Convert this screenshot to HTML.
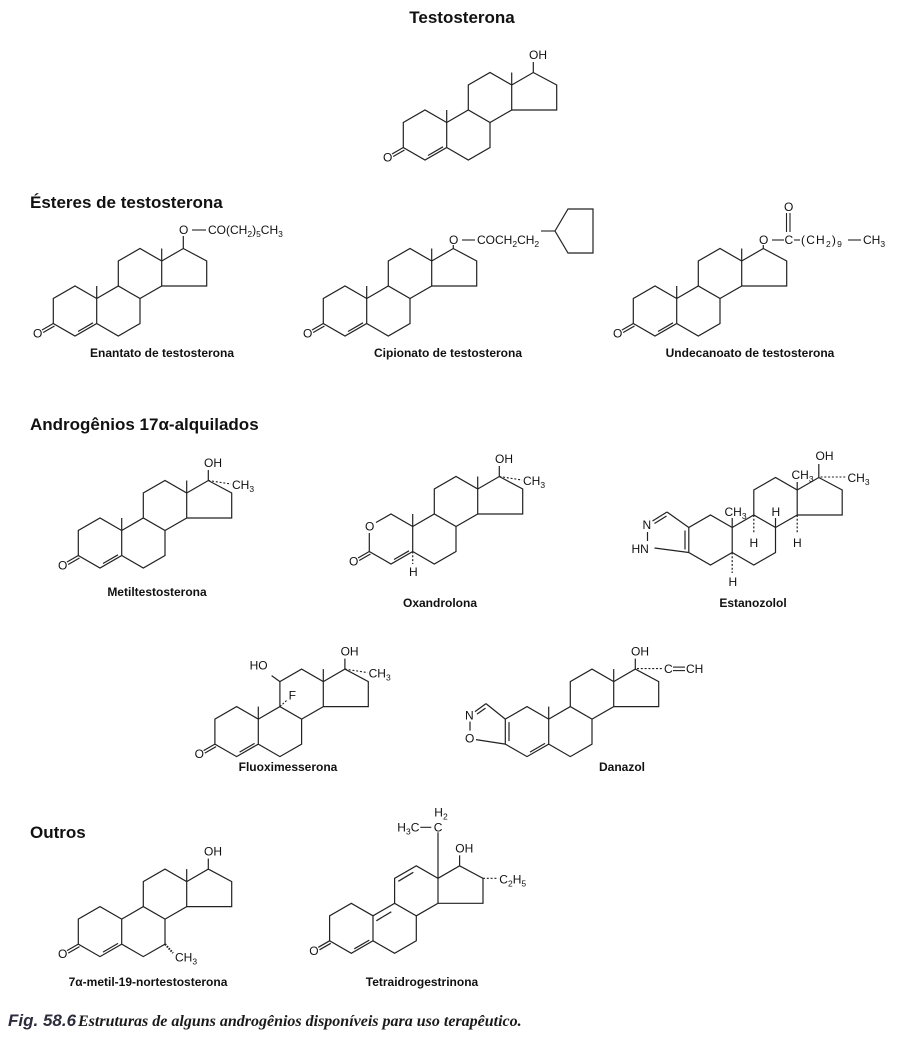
<!DOCTYPE html>
<html><head><meta charset="utf-8">
<style>
html,body{margin:0;padding:0;background:#fff;}
svg{display:block;}
text{font-family:"Liberation Sans",Arial,sans-serif;fill:#111;}
.h{font-weight:bold;font-size:17px;}
.lb{font-weight:bold;font-size:12px;text-anchor:middle;}
.t{font-size:12px;}
.s{font-size:8.5px;}
</style></head>
<body>
<svg width="900" height="1038" viewBox="0 0 900 1038" xmlns="http://www.w3.org/2000/svg">
<defs>
 <g id="ringA" fill="none" stroke="#222" stroke-width="1.2">
  <polyline points="21.7,-12.5 0,-25 -21.7,-12.5 -21.7,12.5 0,25 21.7,12.5 21.7,-12.5"/>
 </g>
 <g id="bcd" fill="none" stroke="#222" stroke-width="1.2">
  <polyline points="21.7,-12.5 43.3,-25 65,-12.5 65,12.5 43.3,25 21.7,12.5"/>
  <polyline points="43.3,-25 43.3,-50 65,-62.5 86.7,-50 86.7,-25 65,-12.5"/>
  <polyline points="86.7,-50 108.3,-62.5 131.7,-50 131.7,-25 86.7,-25"/>
 </g>
 <g id="enone" fill="none" stroke="#222" stroke-width="1.2">
  <line x1="-21.7" y1="12.5" x2="-33" y2="19"/>
  <line x1="-20.5" y1="15" x2="-31.8" y2="21.5"/>
 </g>
 <g id="db45" stroke="#222" stroke-width="1.2"><line x1="3" y1="20.5" x2="18" y2="11.8"/></g>
 <g id="me10" stroke="#222" stroke-width="1.2"><line x1="21.7" y1="-12.5" x2="21.7" y2="-25"/></g>
 <g id="me13" stroke="#222" stroke-width="1.2"><line x1="86.7" y1="-50" x2="86.7" y2="-62.5"/></g>
 <g id="oh17"><line x1="108.3" y1="-62.5" x2="108.3" y2="-73" stroke="#222" stroke-width="1.2"/><text class="t" x="104" y="-76">OH</text></g>
 <g id="ch3a"><line x1="108.3" y1="-62.5" x2="131" y2="-59" stroke="#222" stroke-width="1.1" stroke-dasharray="2,1.8"/><text class="t" x="132" y="-54">CH<tspan class="s" dy="3">3</tspan></text></g>
</defs>

<!-- Headings -->
<text class="h" x="462" y="23" text-anchor="middle">Testosterona</text>
<text class="h" x="30" y="208">Ésteres de testosterona</text>
<text class="h" x="30" y="430">Androgênios 17α-alquilados</text>
<text class="h" x="30" y="838">Outros</text>

<!-- Testosterona -->
<g transform="translate(425,135)">
 <use href="#ringA"/><use href="#bcd"/><use href="#enone"/><use href="#db45"/><use href="#me10"/><use href="#me13"/><use href="#oh17"/>
 <text class="t" x="-42" y="26.5">O</text>
</g>

<!-- Enantato -->
<g transform="translate(75,311)">
 <use href="#ringA"/><use href="#bcd"/><use href="#enone"/><use href="#db45"/><use href="#me10"/><use href="#me13"/>
 <text class="t" x="-42" y="26.5">O</text>
 <line x1="108.3" y1="-62.5" x2="108.3" y2="-75" stroke="#222" stroke-width="1.2"/>
 <text class="t" x="104" y="-77">O</text>
 <line x1="117" y1="-81" x2="131" y2="-81" stroke="#222" stroke-width="1.1"/>
 <text class="t" x="133" y="-77">CO(CH<tspan class="s" dy="3">2</tspan><tspan dy="-3">)</tspan><tspan class="s" dy="3">5</tspan><tspan dy="-3">CH</tspan><tspan class="s" dy="3">3</tspan></text>
</g>
<text class="lb" x="162" y="357">Enantato de testosterona</text>

<!-- Cipionato -->
<g transform="translate(345,311)">
 <use href="#ringA"/><use href="#bcd"/><use href="#enone"/><use href="#db45"/><use href="#me10"/><use href="#me13"/>
 <text class="t" x="-42" y="26.5">O</text>
 <line x1="108.3" y1="-62.5" x2="108.3" y2="-66" stroke="#222" stroke-width="1.2"/>
 <text class="t" x="104" y="-67">O</text>
 <line x1="117" y1="-71" x2="130" y2="-71" stroke="#222" stroke-width="1.1"/>
 <text class="t" x="132" y="-67">COCH<tspan class="s" dy="3">2</tspan><tspan dy="-3">CH</tspan><tspan class="s" dy="3">2</tspan></text>
 <line x1="196" y1="-80" x2="210" y2="-80" stroke="#222" stroke-width="1.1"/>
 <polygon points="210,-80 223,-102 248,-102 248,-58 223,-58" fill="none" stroke="#222" stroke-width="1.2"/>
</g>
<text class="lb" x="448" y="357">Cipionato de testosterona</text>

<!-- Undecanoato -->
<g transform="translate(655,311)">
 <use href="#ringA"/><use href="#bcd"/><use href="#enone"/><use href="#db45"/><use href="#me10"/><use href="#me13"/>
 <text class="t" x="-42" y="26.5">O</text>
 <line x1="108.3" y1="-62.5" x2="108.3" y2="-66" stroke="#222" stroke-width="1.2"/>
 <text class="t" x="104" y="-67">O</text>
 <line x1="117" y1="-71" x2="129" y2="-71" stroke="#222" stroke-width="1.1"/>
 <text class="t" x="129.5" y="-67">C</text>
 <line x1="131.5" y1="-79" x2="131.5" y2="-98" stroke="#222" stroke-width="1.1"/>
 <line x1="135" y1="-79" x2="135" y2="-98" stroke="#222" stroke-width="1.1"/>
 <text class="t" x="129" y="-100">O</text>
 <line x1="139" y1="-71" x2="145" y2="-71" stroke="#222" stroke-width="1.1"/>
 <text class="t" x="146" y="-67" letter-spacing="1.2">(CH<tspan class="s" dy="3">2</tspan><tspan dy="-3">)</tspan><tspan class="s" dy="3">9</tspan></text>
 <line x1="193" y1="-71" x2="206" y2="-71" stroke="#222" stroke-width="1.1"/>
 <text class="t" x="208" y="-67">CH<tspan class="s" dy="3">3</tspan></text>
</g>
<text class="lb" x="750" y="357">Undecanoato de testosterona</text>

<!-- Metiltestosterona -->
<g transform="translate(100,543)">
 <use href="#ringA"/><use href="#bcd"/><use href="#enone"/><use href="#db45"/><use href="#me10"/><use href="#me13"/><use href="#oh17"/><use href="#ch3a"/>
 <text class="t" x="-42" y="26.5">O</text>
</g>
<text class="lb" x="157" y="596">Metiltestosterona</text>

<!-- Oxandrolona -->
<g transform="translate(391,539)">
 <polyline points="21.7,-12.5 0,-25 -15,-16.5" fill="none" stroke="#222" stroke-width="1.2"/>
 <polyline points="-21.7,-6 -21.7,12.5 0,25 21.7,12.5 21.7,-12.5" fill="none" stroke="#222" stroke-width="1.2"/>
 <text class="t" x="-26" y="-8.5">O</text>
 <use href="#bcd"/><use href="#enone"/><use href="#db45"/><use href="#me10"/><use href="#me13"/><use href="#oh17"/><use href="#ch3a"/>
 <text class="t" x="-42" y="26.5">O</text>
 <line x1="21.7" y1="12.5" x2="21.7" y2="25" stroke="#222" stroke-width="1.2" stroke-dasharray="2,1.8"/>
 <text class="t" x="18" y="37">H</text>
</g>
<text class="lb" x="440" y="607">Oxandrolona</text>

<!-- Estanozolol -->
<g transform="translate(710.5,540)">
 <use href="#ringA"/><use href="#bcd"/>
 <line x1="21.7" y1="-12.5" x2="21.7" y2="-22" stroke="#222" stroke-width="1.2"/>
 <text class="t" x="14" y="-24">CH<tspan class="s" dy="3">3</tspan></text>
 <line x1="86.7" y1="-50" x2="86.7" y2="-58" stroke="#222" stroke-width="1.2"/>
 <text class="t" x="81" y="-61">CH<tspan class="s" dy="3">3</tspan></text>
 <line x1="108.3" y1="-62.5" x2="108.3" y2="-76" stroke="#222" stroke-width="1.2"/>
 <text class="t" x="105" y="-80">OH</text>
 <line x1="110" y1="-63" x2="136" y2="-63" stroke="#222" stroke-width="1.1" stroke-dasharray="2,1.8"/>
 <text class="t" x="137" y="-58">CH<tspan class="s" dy="3">3</tspan></text>
 <line x1="43.3" y1="-25" x2="43.3" y2="-6" stroke="#222" stroke-width="1.2" stroke-dasharray="2,1.8"/>
 <text class="t" x="39" y="7">H</text>
 <line x1="65" y1="-12.5" x2="65" y2="-22" stroke="#222" stroke-width="1.2"/>
 <text class="t" x="61" y="-24">H</text>
 <line x1="86.7" y1="-25" x2="86.7" y2="-6" stroke="#222" stroke-width="1.2" stroke-dasharray="2,1.8"/>
 <text class="t" x="82.5" y="7">H</text>
 <line x1="21.7" y1="12.5" x2="21.7" y2="33" stroke="#222" stroke-width="1.2" stroke-dasharray="2,1.8"/>
 <text class="t" x="18" y="46">H</text>
 <g fill="none" stroke="#222" stroke-width="1.2">
  <line x1="-21.7" y1="-12.5" x2="-43.5" y2="-28"/>
  <line x1="-43.5" y1="-28" x2="-58" y2="-19"/>
  <line x1="-44" y1="-24" x2="-56" y2="-16.5"/>
  <line x1="-63" y1="-8" x2="-63" y2="1"/>
  <line x1="-56" y1="8" x2="-21.7" y2="12.5"/>
  <line x1="-25.5" y1="-9.5" x2="-25.5" y2="9.5"/>
 </g>
 <text class="t" x="-68" y="-11">N</text>
 <text class="t" x="-79" y="13">HN</text>
</g>
<text class="lb" x="753" y="607">Estanozolol</text>

<!-- Fluoximesterona -->
<g transform="translate(236.6,731.6)">
 <use href="#ringA"/><use href="#bcd"/><use href="#enone"/><use href="#db45"/><use href="#me10"/><use href="#me13"/><use href="#oh17"/><use href="#ch3a"/>
 <text class="t" x="-42" y="26.5">O</text>
 <line x1="43.3" y1="-50" x2="35" y2="-56" stroke="#222" stroke-width="1.2"/>
 <text class="t" x="13" y="-62">HO</text>
 <line x1="43.3" y1="-25" x2="51" y2="-32" stroke="#222" stroke-width="1.1" stroke-dasharray="2,1.5"/>
 <text class="t" x="52" y="-32">F</text>
</g>
<text class="lb" x="288" y="771">Fluoximesserona</text>

<!-- Danazol -->
<g transform="translate(527,731.6)">
 <use href="#ringA"/><use href="#bcd"/><use href="#db45"/><use href="#me10"/><use href="#me13"/><use href="#oh17"/>
 <line x1="-18" y1="-9.5" x2="-18" y2="9.5" stroke="#222" stroke-width="1.2"/>
 <g fill="none" stroke="#222" stroke-width="1.2">
  <line x1="-21.7" y1="-12.5" x2="-41" y2="-28"/>
  <line x1="-41" y1="-28" x2="-52" y2="-20"/>
  <line x1="-41.5" y1="-23.5" x2="-50" y2="-17.5"/>
  <line x1="-57" y1="-10" x2="-57" y2="-1"/>
  <line x1="-51" y1="8" x2="-21.7" y2="12.5"/>
 </g>
 <text class="t" x="-62" y="-12">N</text>
 <text class="t" x="-62" y="11">O</text>
 <line x1="110" y1="-63" x2="136" y2="-63" stroke="#222" stroke-width="1.1" stroke-dasharray="2,1.8"/>
 <text class="t" x="137" y="-58.5">C</text>
 <line x1="146" y1="-64.5" x2="158" y2="-64.5" stroke="#222" stroke-width="1.1"/>
 <line x1="146" y1="-61" x2="158" y2="-61" stroke="#222" stroke-width="1.1"/>
 <text class="t" x="159" y="-58.5">CH</text>
</g>
<text class="lb" x="622" y="771">Danazol</text>

<!-- 7a-metil-19-nortestosterona -->
<g transform="translate(100,931.6)">
 <use href="#ringA"/><use href="#bcd"/><use href="#enone"/><use href="#db45"/><use href="#me13"/><use href="#oh17"/>
 <text class="t" x="-42" y="26.5">O</text>
 <line x1="65" y1="12.5" x2="73" y2="21.5" stroke="#222" stroke-width="2" stroke-dasharray="1.6,1.2"/>
 <text class="t" x="75" y="30">CH<tspan class="s" dy="3">3</tspan></text>
</g>
<text class="lb" x="148" y="986">7α-metil-19-nortestosterona</text>

<!-- Tetraidrogestrinona -->
<g transform="translate(351.3,928.3)">
 <use href="#ringA"/><use href="#bcd"/><use href="#enone"/><use href="#db45"/>
 <text class="t" x="-42" y="26.5">O</text>
 <line x1="25" y1="-7.5" x2="40" y2="-16.5" stroke="#222" stroke-width="1.2"/>
 <line x1="47" y1="-47" x2="62" y2="-56" stroke="#222" stroke-width="1.2"/>
 <line x1="86.7" y1="-50" x2="86.7" y2="-96" stroke="#222" stroke-width="1.2"/>
 <text class="t" x="82.5" y="-97">C</text>
 <text class="t" x="83" y="-112">H<tspan class="s" dy="3">2</tspan></text>
 <line x1="69" y1="-101" x2="80" y2="-101" stroke="#222" stroke-width="1.1"/>
 <text class="t" x="46" y="-97">H<tspan class="s" dy="3">3</tspan><tspan dy="-3">C</tspan></text>
 <line x1="108.3" y1="-62.5" x2="108.3" y2="-73" stroke="#222" stroke-width="1.2"/>
 <text class="t" x="104" y="-76">OH</text>
 <line x1="131.7" y1="-50" x2="147" y2="-50" stroke="#222" stroke-width="1.1" stroke-dasharray="2,1.8"/>
 <text class="t" x="148" y="-45">C<tspan class="s" dy="3">2</tspan><tspan dy="-3">H</tspan><tspan class="s" dy="3">5</tspan></text>
</g>
<text class="lb" x="422" y="986">Tetraidrogestrinona</text>

<!-- Caption -->
<text x="8" y="1026" style="font-family:'Liberation Sans',Arial,sans-serif;font-weight:bold;font-style:italic;font-size:17px;fill:#2c2c3c;">Fig. 58.6</text>
<text x="78" y="1026" style="font-family:'Liberation Serif','Times New Roman',serif;font-weight:bold;font-style:italic;font-size:16px;fill:#1a1a1a;">Estruturas de alguns androgênios disponíveis para uso terapêutico.</text>
</svg>
</body></html>
